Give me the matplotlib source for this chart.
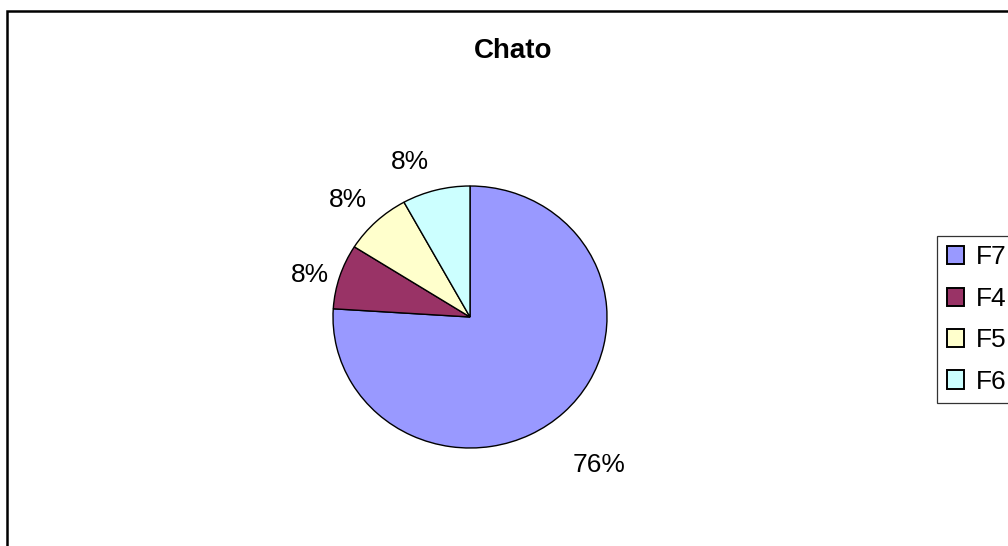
import matplotlib
matplotlib.use("Agg")
import matplotlib.pyplot as plt
from matplotlib.patches import Rectangle
import numpy as np

plt.rcParams['font.family'] = ['Liberation Sans', 'DejaVu Sans']

# Data
title = "Chato"
categories = ["F7", "F4", "F5", "F6"]
shares = [76, 8, 8, 8]
colors = ["#9999FF", "#993366", "#FFFFCC", "#CCFFFF"]

W, H = 1008, 546
fig = plt.figure(figsize=(W / 100, H / 100), dpi=100)

# Outer chart border (runs off the right and bottom edges)
fig.patches.append(Rectangle((7 / W, -0.05), 1.2, 1 - 11 / H + 0.05,
                             transform=fig.transFigure, fill=False,
                             edgecolor="black", linewidth=1.8))

# Pie axes placed in pixel terms: centre (470, 317), radii 137 x 131
cx, cy, rx, ry = 470, 317, 137, 131
ax = fig.add_axes([(cx - rx) / W, (H - cy - ry) / H, 2 * rx / W, 2 * ry / H])
wedges, _ = ax.pie(shares, colors=colors, startangle=90, counterclock=False,
                   wedgeprops=dict(edgecolor="black", linewidth=1.0))
ax.set_aspect("auto")
ax.set_xlim(-1, 1)
ax.set_ylim(-1, 1)
ax.axis("off")

# Percentage labels outside each wedge: (radial distance, angular nudge in degrees)
label_place = [(1.47, -3.4), (1.21, 2.7), (1.26, 1.8), (1.26, 6.0)]
total = sum(shares)
for w, v, (d, nudge) in zip(wedges, shares, label_place):
    mid = np.deg2rad((w.theta1 + w.theta2) / 2 + nudge)
    ax.text(d * np.cos(mid), d * np.sin(mid), f"{round(100 * v / total)}%",
            ha="center", va="center", fontsize=19, clip_on=False)

fig.text(513 / W, 1 - 51 / H, title, ha="center", va="center",
         fontsize=20, fontweight="bold")

leg = fig.legend(wedges, categories, loc="upper left",
                 bbox_to_anchor=(937 / W, 1 - 236 / H), fontsize=19,
                 frameon=True, fancybox=False, edgecolor="black",
                 handlelength=0.68, handleheight=0.68, handletextpad=0.42,
                 labelspacing=0.66, borderpad=0.36, borderaxespad=0)
leg.get_frame().set_linewidth(0.9)
for h in leg.legend_handles:
    h.set_linewidth(1.4)

fig.savefig("out.png", dpi=100)
